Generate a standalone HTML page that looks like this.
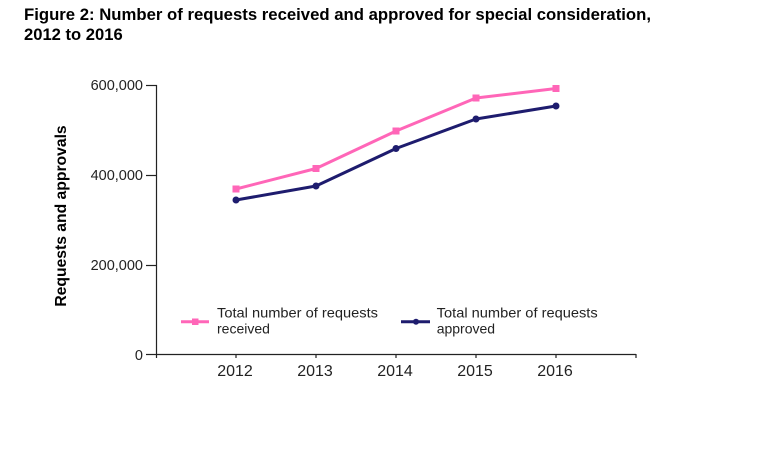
<!DOCTYPE html>
<html>
<head>
<meta charset="utf-8">
<style>
  html,body{margin:0;padding:0;background:#fff;}
  body{width:758px;height:458px;overflow:hidden;}
  svg{display:block;}
  text{font-family:"Liberation Sans",Arial,sans-serif;}
</style>
</head>
<body>
<svg width="758" height="458" viewBox="0 0 758 458" xmlns="http://www.w3.org/2000/svg">
  <rect width="758" height="458" fill="#fff"/>
  <!-- Title -->
  <text x="24" y="20" font-size="16.6" font-weight="bold" fill="#000" textLength="627" lengthAdjust="spacingAndGlyphs">Figure 2: Number of requests received and approved for special consideration,</text>
  <text x="24" y="40" font-size="16.6" font-weight="bold" fill="#000">2012 to 2016</text>

  <!-- Y axis title -->
  <text transform="translate(66,216) rotate(-90)" text-anchor="middle" font-size="15.7" font-weight="bold" fill="#000">Requests and approvals</text>

  <!-- Axes -->
  <g stroke="#222" stroke-width="1.2" fill="none">
    <line x1="156.5" y1="85" x2="156.5" y2="358"/>
    <line x1="156" y1="354.5" x2="636" y2="354.5"/>
    <line x1="146" y1="85.5" x2="157" y2="85.5"/>
    <line x1="146" y1="175.5" x2="157" y2="175.5"/>
    <line x1="146" y1="265.5" x2="157" y2="265.5"/>
    <line x1="146" y1="354.5" x2="157" y2="354.5"/>
    <line x1="236" y1="354" x2="236" y2="358"/>
    <line x1="316" y1="354" x2="316" y2="358"/>
    <line x1="396" y1="354" x2="396" y2="358"/>
    <line x1="476" y1="354" x2="476" y2="358"/>
    <line x1="556" y1="354" x2="556" y2="358"/>
    <line x1="636" y1="354" x2="636" y2="358"/>
  </g>

  <!-- Y tick labels -->
  <g font-size="14.5" fill="#222" text-anchor="end">
    <text x="143" y="90">600,000</text>
    <text x="143" y="180">400,000</text>
    <text x="143" y="270">200,000</text>
    <text x="143" y="360">0</text>
  </g>

  <!-- X tick labels -->
  <g font-size="16" fill="#222" text-anchor="middle">
    <text x="235" y="376">2012</text>
    <text x="315" y="376">2013</text>
    <text x="395" y="376">2014</text>
    <text x="475" y="376">2015</text>
    <text x="555" y="376">2016</text>
  </g>

  <!-- Pink series: received -->
  <polyline points="236,189 316,168.5 396,131 476,98 556,88.5" fill="none" stroke="#FF66B8" stroke-width="3" stroke-linejoin="round"/>
  <g fill="#FF66B8">
    <rect x="232.5" y="185.5" width="7" height="7"/>
    <rect x="312.5" y="165" width="7" height="7"/>
    <rect x="392.5" y="127.5" width="7" height="7"/>
    <rect x="472.5" y="94.5" width="7" height="7"/>
    <rect x="552.5" y="85" width="7" height="7"/>
  </g>

  <!-- Navy series: approved -->
  <polyline points="236,200 316,186 396,148.5 476,119 556,106" fill="none" stroke="#1E1C6E" stroke-width="3" stroke-linejoin="round"/>
  <g fill="#1E1C6E">
    <circle cx="236" cy="200" r="3.5"/>
    <circle cx="316" cy="186" r="3.5"/>
    <circle cx="396" cy="148.5" r="3.5"/>
    <circle cx="476" cy="119" r="3.5"/>
    <circle cx="556" cy="106" r="3.5"/>
  </g>

  <!-- Legend -->
  <line x1="181" y1="321.7" x2="209" y2="321.7" stroke="#FF66B8" stroke-width="3"/>
  <rect x="192" y="318.5" width="6.5" height="6.5" fill="#FF66B8"/>
  <text x="217" y="317.3" font-size="14" fill="#222" textLength="161" lengthAdjust="spacingAndGlyphs">Total number of requests</text>
  <text x="217" y="333.3" font-size="14" fill="#222">received</text>

  <line x1="401" y1="321.7" x2="430" y2="321.7" stroke="#1E1C6E" stroke-width="3"/>
  <circle cx="416" cy="321.7" r="3" fill="#1E1C6E"/>
  <text x="436.7" y="317.3" font-size="14" fill="#222" textLength="161" lengthAdjust="spacingAndGlyphs">Total number of requests</text>
  <text x="436.7" y="333.3" font-size="14" fill="#222">approved</text>
</svg>
</body>
</html>
